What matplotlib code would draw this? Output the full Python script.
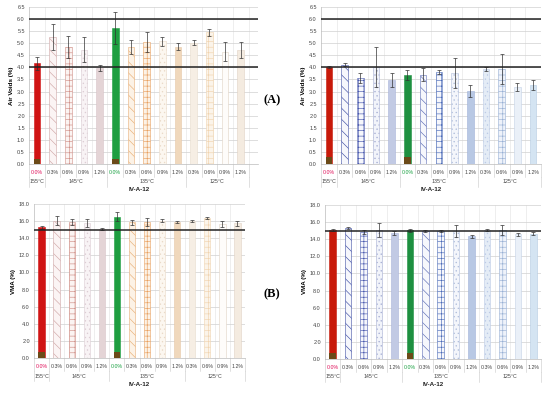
import numpy as np
import matplotlib
matplotlib.use("Agg")
import matplotlib.pyplot as plt
from matplotlib.transforms import blended_transform_factory

plt.rcParams['font.family'] = ['Liberation Sans', 'DejaVu Sans']
plt.rcParams['hatch.linewidth'] = 0.45

categories = ['0.0%', '0.3%', '0.6%', '0.9%', '1.2%', '0.0%', '0.3%', '0.6%', '0.9%', '1.2%',
              '0.3%', '0.6%', '0.9%', '1.2%']
temp_labels = ['155°C', '145°C', '135°C', '125°C']
temp_bounds = [-0.5, 0.5, 4.5, 9.5, 13.5]

# Air voids (%)
av_left = [4.18, 5.26, 4.83, 4.73, 3.99, 5.63, 4.86, 5.05, 5.08, 4.86, 5.03, 5.46, 4.65, 4.72]
av_left_err = [0.27, 0.54, 0.45, 0.52, 0.12, 0.67, 0.29, 0.43, 0.19, 0.15, 0.10, 0.14, 0.40, 0.32]
av_right = [4.00, 4.11, 3.57, 4.00, 3.49, 3.68, 3.70, 3.82, 3.77, 3.03, 3.93, 3.93, 3.19, 3.28]
av_right_err = [0.04, 0.07, 0.20, 0.83, 0.29, 0.20, 0.27, 0.08, 0.62, 0.24, 0.10, 0.63, 0.17, 0.20]
av_limits = [4.0, 6.0]

# VMA (%)
vma_left = [15.27, 16.05, 15.85, 15.74, 15.08, 16.52, 15.85, 15.93, 16.05, 15.90, 16.00, 16.36, 15.66, 15.74]
vma_left_err = [0.20, 0.55, 0.35, 0.45, 0.10, 0.50, 0.25, 0.45, 0.20, 0.15, 0.10, 0.12, 0.30, 0.30]
vma_right = [15.05, 15.30, 14.85, 15.10, 14.73, 15.05, 15.00, 14.97, 14.97, 14.35, 15.05, 15.10, 14.58, 14.66]
vma_right_err = [0.10, 0.10, 0.20, 0.85, 0.20, 0.20, 0.10, 0.15, 0.70, 0.15, 0.10, 0.60, 0.15, 0.15]
vma_limit = [15.0]

# (face, hatch color, hatch)
warm = [('#d01414', '#d01414', None), ('#fbf4f4', '#d0a8a8', '\\\\\\'), ('#fbf4f2', '#d09088', '+++'),
        ('#f8f3f5', '#dccdd4', '....'), ('#e4d4d6', '#d8c4c8', None), ('#1e9e40', '#1e9e40', None),
        ('#fcf2e6', '#e8b078', '\\\\\\'), ('#fcf2e6', '#e8a060', '+++'), ('#fcf7f0', '#eadac8', '....'),
        ('#f0d8bc', '#e6c8a8', None), ('#f6eee4', '#e8dccc', None), ('#fbf4ea', '#f0d4b0', '+++'),
        ('#fefcfa', '#e0d2c4', None), ('#f4ebe0', '#e0d2c4', None)]
cool = [('#c81a0a', '#c81a0a', None), ('#f6f7fc', '#4050a4', '\\\\\\'), ('#f6f7fc', '#4a5aae', '+++'),
        ('#f2f4fa', '#a8b0d4', '....'), ('#c2cae4', '#aab4da', None), ('#1e9040', '#1e9040', None),
        ('#f6f7fc', '#5e6eb6', '\\\\\\'), ('#f6f7fc', '#4c6cb8', '+++'), ('#f4f6fb', '#b0bedc', '....'),
        ('#b8c8e4', '#a0b2d8', None), ('#e4ecf6', '#bccbe6', '....'), ('#eef2fa', '#98b0d4', '+++'),
        ('#eaf0f8', '#c4d2e6', None), ('#d4e4f2', '#b4cae2', None)]

fig = plt.figure(figsize=(5.5, 3.93), dpi=100)
W, H = 550, 393


def panel(px, values, errs, limits, styles, ymax, ystep, ylabel, right_pad, base_h):
    x0, x1, ytop, ybot = px
    ax = fig.add_axes([x0 / W, 1 - ybot / H, (x1 - x0) / W, (ybot - ytop) / H])
    x = np.arange(len(values))
    for i, (v, e) in enumerate(zip(values, errs)):
        face, hc, hatch = styles[i]
        ax.bar(i, v, width=0.42, color=face, edgecolor=hc, hatch=hatch, linewidth=0.4, zorder=3)
        if i in (0, 5):
            ax.bar(i, base_h, width=0.42, color='#6b4a18', linewidth=0, zorder=3.5)
    ax.errorbar(x, values, yerr=errs, fmt='none', ecolor='#333333', elinewidth=0.5,
                capsize=1.2, capthick=0.5, zorder=4)
    for lim in limits:
        ax.axhline(lim, color='#222222', lw=1.1, zorder=5)
    ax.set_ylim(0, ymax)
    ax.set_xlim(-0.5, 13.5 + right_pad)
    ticks = np.arange(0, ymax + 1e-6, ystep)
    ax.set_yticks(ticks)
    ax.set_yticklabels([f'{t:.1f}' for t in ticks], fontsize=4, color='#444444')
    ax.yaxis.grid(True, color='#d0d0d0', lw=0.5, zorder=0)
    for b in np.arange(0.5, 13.5 + right_pad, 1.0):
        ax.axvline(b, color='#e2e2e2', lw=0.4, zorder=0)
    ax.set_xticks(x)
    ax.set_xticklabels(categories, fontsize=3.8, color='#444444')
    ax.get_xticklabels()[0].set_color('#e0105a')
    ax.get_xticklabels()[5].set_color('#18a040')
    ax.tick_params(axis='x', length=0, pad=4)
    ax.tick_params(axis='y', length=0, pad=3)
    for s in ['top', 'right']:
        ax.spines[s].set_visible(False)
    for s in ['left', 'bottom']:
        ax.spines[s].set_color('#bbbbbb')
        ax.spines[s].set_linewidth(0.5)
    hpx = ybot - ytop
    tr = blended_transform_factory(ax.transData, ax.transAxes)
    for b in np.arange(-0.5, 13.6, 1.0):
        ax.plot([b, b], [0, -13 / hpx], transform=tr, color='#c8c8c8', lw=0.4, clip_on=False)
    for b in temp_bounds:
        ax.plot([b, b], [-13 / hpx, -23 / hpx], transform=tr, color='#c8c8c8', lw=0.4, clip_on=False)
    for lab, a, b in zip(temp_labels, temp_bounds[:-1], temp_bounds[1:]):
        ax.text((a + b) / 2, -18 / hpx, lab, transform=tr, ha='center', va='center',
                fontsize=3.8, color='#444444')
    ax.text(6.5, -26 / hpx, 'IV-A-12', transform=tr, ha='center', va='center',
            fontsize=4.5, fontweight='bold', color='#222222')
    ax.set_ylabel(ylabel, fontsize=4.5, fontweight='bold', labelpad=2)
    return ax


panel((29, 258, 7, 164), av_left, av_left_err, av_limits, warm, 6.5, 0.5, 'Air Voids (%)', 0.6, 0.2)
panel((321, 541, 7, 164), av_right, av_right_err, av_limits, cool, 6.5, 0.5, 'Air Voids (%)', 0.0, 0.3)
panel((34, 245, 204, 358), vma_left, vma_left_err, vma_limit, warm, 18.0, 2.0, 'VMA (%)', 0.0, 0.7)
panel((325, 541, 205, 359), vma_right, vma_right_err, vma_limit, cool, 18.0, 2.0, 'VMA (%)', 0.0, 0.7)

fig.text(272 / W, 1 - 100 / H, '(A)', family='Liberation Serif', fontweight='bold', fontsize=9,
         ha='center', va='center')
fig.text(272 / W, 1 - 294 / H, '(B)', family='Liberation Serif', fontweight='bold', fontsize=9,
         ha='center', va='center')

fig.savefig('out.png', dpi=100)
